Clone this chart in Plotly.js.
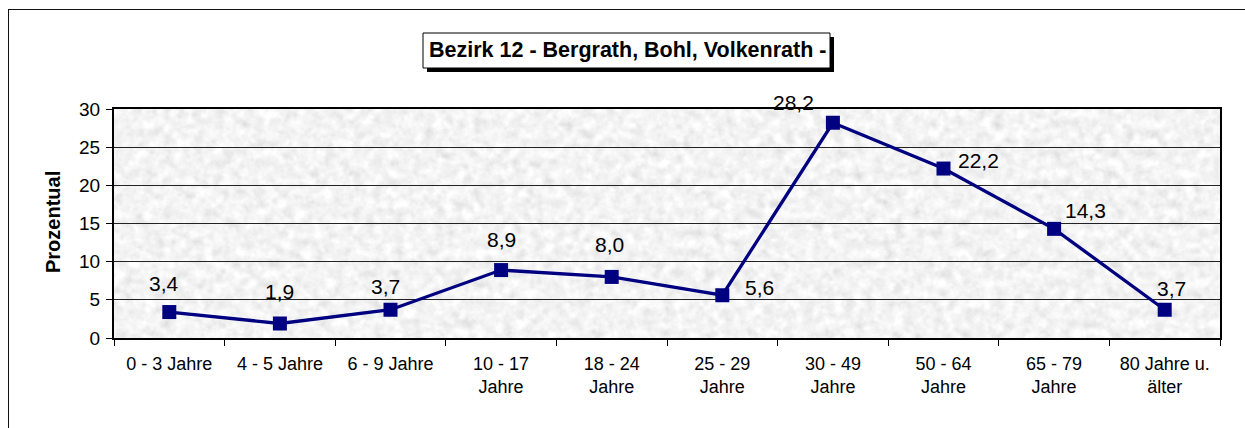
<!DOCTYPE html>
<html>
<head>
<meta charset="utf-8">
<script src="https://cdn.plot.ly/plotly-3.0.1.min.js"></script>
<style>
html,body{margin:0;padding:0;background:#fff;overflow:hidden;}
#wrap{position:relative;width:1245px;height:428px;overflow:hidden;}
#chart{width:1245px;height:428px;}
#frame{position:absolute;left:8px;top:9px;width:1400px;height:600px;border-top:1px solid #111;border-left:1px solid #111;pointer-events:none;z-index:5;}
</style>
</head>
<body>
<div id="wrap"><div id="chart"></div><div id="frame"></div></div>
<script>
// ---- data ----
const categories = ['0 - 3 Jahre','4 - 5 Jahre','6 - 9 Jahre','10 - 17 Jahre','18 - 24 Jahre','25 - 29 Jahre','30 - 49 Jahre','50 - 64 Jahre','65 - 79 Jahre','80 Jahre u. älter'];
const tickLabels = ['0 - 3 Jahre','4 - 5 Jahre','6 - 9 Jahre','10 - 17<br>Jahre','18 - 24<br>Jahre','25 - 29<br>Jahre','30 - 49<br>Jahre','50 - 64<br>Jahre','65 - 79<br>Jahre','80 Jahre u.<br>älter'];
const values = [3.4, 1.9, 3.7, 8.9, 8.0, 5.6, 28.2, 22.2, 14.3, 3.7];
const chartTitle = 'Bezirk 12 - Bergrath, Bohl, Volkenrath -';
const yTitle = 'Prozentual';

// ---- label placement (pixel offsets from each point, styling only) ----
const labelShift = [[-5,29],[0,32],[-5,23],[0,31],[-2,32],[37,8],[-39,20],[35,8],[31,18],[7,21]];

const FONT = 'Arial, "Liberation Sans", sans-serif';
const NAVY = '#000080';

// background texture (plot area), pure styling
const svgTex = "<svg xmlns='http://www.w3.org/2000/svg' width='1106' height='229'>" +
  "<filter id='n' x='0' y='0' width='100%' height='100%'><feTurbulence type='fractalNoise' baseFrequency='0.1' numOctaves='3' seed='4'/>" +
  "<feColorMatrix type='matrix' values='0.2 0.2 0.2 0 0.6  0.2 0.2 0.2 0 0.6  0.2 0.2 0.2 0 0.6  0 0 0 0 1'/></filter>" +
  "<rect width='1106' height='229' filter='url(#n)'/></svg>";
const texURI = 'data:image/svg+xml;charset=utf-8,' + encodeURIComponent(svgTex);

const trace = {
  type: 'scatter',
  mode: 'lines+markers',
  x: categories,
  y: values,
  line: {color: NAVY, width: 3.3},
  marker: {symbol: 'square', size: 14, color: NAVY},
  hoverinfo: 'x+y',
  showlegend: false
};

const annotations = values.map((v, i) => ({
  x: categories[i], y: v, xref: 'x', yref: 'y',
  text: v.toFixed(1).replace('.', ','),
  showarrow: false,
  xanchor: 'center', yanchor: 'middle',
  xshift: labelShift[i][0], yshift: labelShift[i][1],
  font: {family: FONT, size: 21, color: '#000'}
}));

// plot area px: left 114, right 1220, top 109, bottom 338
const px = v => (v - 114) / 1106;
const py = v => (338 - v) / 229;

// title text
annotations.push({
  xref: 'paper', yref: 'paper', x: px(627), y: py(50.5),
  text: '<b>' + chartTitle + '</b>', showarrow: false,
  xanchor: 'center', yanchor: 'middle',
  font: {family: FONT, size: 21.5, color: '#000'}
});
// y-axis title
annotations.push({
  xref: 'paper', yref: 'paper', x: px(53), y: py(222),
  text: '<b>' + yTitle + '</b>', showarrow: false, textangle: -90,
  xanchor: 'center', yanchor: 'middle',
  font: {family: FONT, size: 20, color: '#000'}
});

const shapes = [
  // title shadow
  {type: 'rect', xref: 'paper', yref: 'paper', x0: px(427), x1: px(834), y0: py(72), y1: py(37),
   line: {width: 0}, fillcolor: '#000', layer: 'above'},
  // title box
  {type: 'rect', xref: 'paper', yref: 'paper', x0: px(423), x1: px(830), y0: py(68), y1: py(33),
   line: {color: '#000', width: 1}, fillcolor: '#fff', layer: 'above'}
];

const layout = {
  width: 1245, height: 428,
  margin: {l: 114, r: 25, t: 109, b: 90, pad: 0},
  paper_bgcolor: '#fff',
  plot_bgcolor: 'rgba(0,0,0,0)',
  font: {family: FONT, size: 18, color: '#000'},
  showlegend: false,
  images: [{source: texURI, xref: 'paper', yref: 'paper', x: 0, y: 1, sizex: 1, sizey: 1,
            sizing: 'stretch', xanchor: 'left', yanchor: 'top', layer: 'below'}],
  xaxis: {
    type: 'category',
    range: [-0.5, 9.5],
    tickmode: 'array', tickvals: categories, ticktext: tickLabels,
    tickson: 'boundaries',
    ticks: 'outside', ticklen: 6, tickwidth: 1, tickcolor: '#000',
    ticklabelstandoff: 8,
    tickfont: {family: FONT, size: 18, color: '#000'},
    showgrid: false, zeroline: false,
    showline: true, linecolor: '#000', linewidth: 2, mirror: true,
    fixedrange: true
  },
  yaxis: {
    range: [0, 30], dtick: 5, tick0: 0,
    ticks: 'outside', ticklen: 6, tickwidth: 1, tickcolor: '#000',
    ticklabelstandoff: 2,
    tickfont: {family: FONT, size: 19, color: '#000'},
    showgrid: true, gridcolor: '#222', gridwidth: 1,
    zeroline: false,
    showline: true, linecolor: '#000', linewidth: 2, mirror: true,
    fixedrange: true
  },
  annotations: annotations,
  shapes: shapes
};

Plotly.newPlot('chart', [trace], layout, {displayModeBar: false, staticPlot: true});
</script>
</body>
</html>
